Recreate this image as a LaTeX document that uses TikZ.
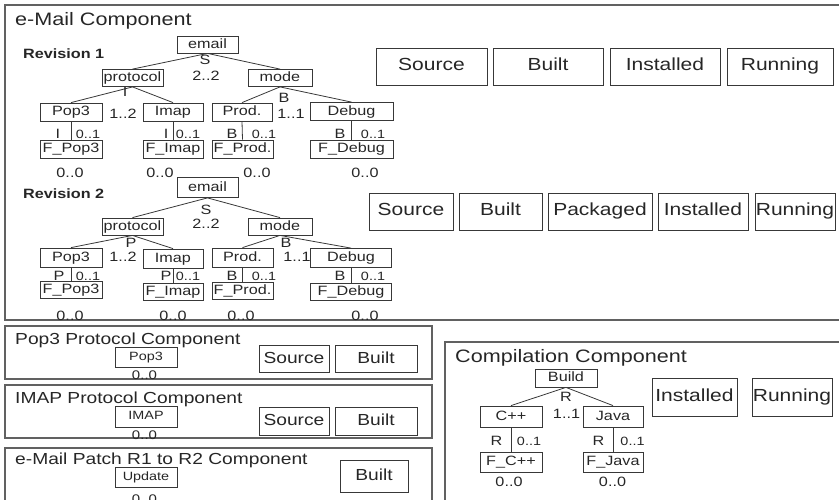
\documentclass[tikz,border=0pt]{standalone}
\usepackage{fontspec}
\setmainfont{Liberation Sans}[FakeStretch=1.2]
\newcommand{\fsz}[1]{\fontsize{#1pt}{#1pt}\selectfont}

\begin{document}
\begin{tikzpicture}[x=1pt,y=-1pt,
  frame/.style={draw=black!62, line width=1.1pt},
  ttl/.style={anchor=base west, inner sep=0pt, font=\fsz{16}, text=black!85},
  rev/.style={anchor=base west, inner sep=0pt, font=\fsz{13.5}\bfseries, text=black!85},
  fbox/.style={draw=black!78, line width=0.8pt, inner sep=0pt, font=\fsz{13.5},
    text=black!85, minimum height=17pt, text height=9.8pt, text depth=2.8pt},
  sbox/.style={fbox, font=\fsz{12}, text height=8.7pt, text depth=2.5pt},
  state/.style={draw=black!78, line width=0.9pt, inner sep=0pt, font=\fsz{17.5},
    text=black!85, minimum height=37pt, text height=12.5pt, text depth=3.6pt},
  lbl/.style={inner sep=0pt, font=\fsz{13.5}, text=black!85},
  card/.style={inner sep=0pt, font=\fsz{12}, text=black!85},
  edge/.style={draw=black!78, line width=0.8pt}]

\useasboundingbox (0,0) rectangle (839,499);
\clip (0,0) rectangle (839,499);

% ---------- frames ----------
\draw[frame] (5,5) rectangle (850,320);
\draw[frame] (5,326) rectangle (432,379);
\draw[frame] (5,385) rectangle (432,438);
\draw[frame] (5,448) rectangle (432,515);
\draw[frame] (445,342) rectangle (850,515);

\node[ttl, font=\fsz{18}] (tmail) at (15,25) {e-Mail Component};
\node[ttl] (tpop) at (15,344.5) {Pop3 Protocol Component};
\node[ttl] (timap) at (15,403) {IMAP Protocol Component};
\node[ttl] (tpatch) at (15,464) {e-Mail Patch R1 to R2 Component};
\node[ttl, font=\fsz{18}] (tcomp) at (455,362) {Compilation Component};

% ---------- Revision 1 ----------
\node[rev] (rev1) at (23,58) {Revision 1};
\node[fbox, minimum width=61pt] (e1email) at (207.5,44.5) {email};
\node[fbox, minimum width=61pt] (e1prot) at (132.5,78) {protocol};
\node[fbox, minimum width=64pt] (e1mode) at (280,78) {mode};
\node[fbox, minimum width=62pt, minimum height=18pt] (e1pop) at (71,112) {Pop3};
\node[fbox, minimum width=60pt, minimum height=18pt] (e1imap) at (173,112) {Imap};
\node[fbox, minimum width=60pt, minimum height=18pt] (e1prod) at (242,112) {Prod.};
\node[fbox, minimum width=83pt, minimum height=18pt] (e1debug) at (351.5,111.5) {Debug};
\node[fbox, minimum width=62pt, minimum height=18pt] (e1fpop) at (71,149) {F\_Pop3};
\node[fbox, minimum width=60pt, minimum height=18pt] (e1fimap) at (173,149) {F\_Imap};
\node[fbox, minimum width=61pt, minimum height=18pt] (e1fprod) at (242.5,149) {F\_Prod.};
\node[fbox, minimum width=83pt, minimum height=18pt] (e1fdebug) at (351.5,149) {F\_Debug};

\draw[edge] (e1email.south) -- (e1prot.north);
\draw[edge] (e1email.south) -- (e1mode.north);
\draw[edge] (e1prot.south) -- (e1pop.north);
\draw[edge] (e1prot.south) -- (e1imap.north);
\draw[edge] (e1mode.south) -- (e1prod.north);
\draw[edge] (e1mode.south) -- (e1debug.north);
\draw[edge] (e1pop.south) -- (e1fpop.north);
\draw[edge] (e1imap.south) -- (e1fimap.north);
\draw[edge] (e1prod.south) -- (e1fprod.north);
\draw[edge] (e1debug.south) -- (e1fdebug.north);

\node[lbl] (e1s) at (205,60) {S};
\node[lbl] (e1sc) at (206,76) {2..2};
\node[lbl] (e1i) at (125,92) {I};
\node[lbl] (e1ic) at (123,114) {1..2};
\node[lbl] (e1b) at (284,98) {B};
\node[lbl] (e1bc) at (291,114) {1..1};
\node[lbl] (e1pi) at (58,134) {I};
\node[card] (e1pc) at (88,134) {0..1};
\node[lbl] (e1mi) at (166,134) {I};
\node[card] (e1mc) at (188,134) {0..1};
\node[lbl] (e1rb) at (232,134) {B};
\node[card] (e1rc) at (264,134) {0..1};
\node[lbl] (e1db) at (340,134) {B};
\node[card] (e1dc) at (373,134) {0..1};
\node[lbl] (e1z1) at (70,172.5) {0..0};
\node[lbl] (e1z2) at (160,172.5) {0..0};
\node[lbl] (e1z3) at (257,172.5) {0..0};
\node[lbl] (e1z4) at (365,172.5) {0..0};

\node[state, minimum width=111pt] (r1src) at (431.5,66.5) {Source};
\node[state, minimum width=110pt] (r1blt) at (548,66.5) {Built};
\node[state, minimum width=110pt] (r1ins) at (665,66.5) {Installed};
\node[state, minimum width=106pt] (r1run) at (780,66.5) {Running};

% ---------- Revision 2 ----------
\node[rev] (rev2) at (23,198) {Revision 2};
\node[fbox, minimum width=61pt, minimum height=20pt] (e2email) at (207.5,187.5) {email};
\node[fbox, minimum width=61pt] (e2prot) at (132.5,226.5) {protocol};
\node[fbox, minimum width=64pt] (e2mode) at (280,226.5) {mode};
\node[fbox, minimum width=62pt, minimum height=19pt] (e2pop) at (71,257.5) {Pop3};
\node[fbox, minimum width=60pt, minimum height=19pt] (e2imap) at (173,258.5) {Imap};
\node[fbox, minimum width=61pt, minimum height=19pt] (e2prod) at (242.5,257.5) {Prod.};
\node[fbox, minimum width=81pt, minimum height=19pt] (e2debug) at (351,258) {Debug};
\node[fbox, minimum width=62pt] (e2fpop) at (71,290) {F\_Pop3};
\node[fbox, minimum width=60pt] (e2fimap) at (173,291.5) {F\_Imap};
\node[fbox, minimum width=61pt] (e2fprod) at (242.5,290.5) {F\_Prod.};
\node[fbox, minimum width=81pt] (e2fdebug) at (351,291.5) {F\_Debug};

\draw[edge] (e2email.south) -- (e2prot.north);
\draw[edge] (e2email.south) -- (e2mode.north);
\draw[edge] (e2prot.south) -- (e2pop.north);
\draw[edge] (e2prot.south) -- (e2imap.north);
\draw[edge] (e2mode.south) -- (e2prod.north);
\draw[edge] (e2mode.south) -- (e2debug.north);
\draw[edge] (e2pop.south) -- (e2fpop.north);
\draw[edge] (e2imap.south) -- (e2fimap.north);
\draw[edge] (e2prod.south) -- (e2fprod.north);
\draw[edge] (e2debug.south) -- (e2fdebug.north);

\node[lbl] (e2s) at (206,210) {S};
\node[lbl] (e2sc) at (206,224) {2..2};
\node[lbl] (e2p) at (131,243) {P};
\node[lbl] (e2pc) at (123,257) {1..2};
\node[lbl] (e2b) at (286,243) {B};
\node[lbl] (e2bc) at (297,257) {1..1};
\node[lbl] (e2pp) at (59,276) {P};
\node[card] (e2ppc) at (88,276) {0..1};
\node[lbl] (e2mp) at (166,276) {P};
\node[card] (e2mpc) at (188,276) {0..1};
\node[lbl] (e2rb) at (232,276) {B};
\node[card] (e2rbc) at (264,276) {0..1};
\node[lbl] (e2db) at (340,276) {B};
\node[card] (e2dbc) at (373,276) {0..1};
\node[lbl] (e2z1) at (70,316) {0..0};
\node[lbl] (e2z2) at (173,316) {0..0};
\node[lbl] (e2z3) at (241,316) {0..0};
\node[lbl] (e2z4) at (365,316) {0..0};

\node[state, minimum width=84pt] (r2src) at (411,211.5) {Source};
\node[state, minimum width=83pt] (r2blt) at (500.5,211.5) {Built};
\node[state, minimum width=104pt] (r2pkg) at (600,211.5) {Packaged};
\node[state, minimum width=90pt] (r2ins) at (703,211.5) {Installed};
\node[state, minimum width=80pt] (r2run) at (795,211.5) {Running};

% ---------- Pop3 / IMAP / patch components ----------
\node[sbox, minimum width=62pt, minimum height=20pt] (pbox) at (146,357) {Pop3};
\node[card, font=\fsz{12.5}] (pz) at (144.5,375.5) {0..0};
\node[state, font=\fsz{16}, minimum width=70pt, minimum height=27pt] (psrc) at (294,359) {Source};
\node[state, font=\fsz{16}, minimum width=82pt, minimum height=27pt] (pblt) at (376,359) {Built};

\node[sbox, minimum width=62pt, minimum height=21pt] (ibox) at (146,416.5) {IMAP};
\node[card, font=\fsz{12.5}] (iz) at (144.5,435) {0..0};
\node[state, font=\fsz{16}, minimum width=70pt, minimum height=28pt] (isrc) at (294,421) {Source};
\node[state, font=\fsz{16}, minimum width=82pt, minimum height=28pt] (iblt) at (376,421) {Built};

\node[sbox, minimum width=62pt, minimum height=20pt] (ubox) at (146,477) {Update};
\node[card, font=\fsz{12.5}] (uz) at (144.5,499.5) {0..0};
\node[state, font=\fsz{16}, minimum width=68pt, minimum height=32pt] (ublt) at (374,476) {Built};

% ---------- Compilation component ----------
\node[fbox, minimum width=62pt, minimum height=18pt] (build) at (566,378) {Build};
\node[fbox, minimum width=62pt, minimum height=21pt] (cpp) at (511,416.5) {C++};
\node[fbox, minimum width=60pt, minimum height=21pt] (java) at (613,416.5) {Java};
\node[fbox, minimum width=62pt, minimum height=20pt] (fcpp) at (511,462) {F\_C++};
\node[fbox, minimum width=60pt, minimum height=20pt] (fjava) at (613,462) {F\_Java};

\draw[edge] (build.south) -- (cpp.north);
\draw[edge] (build.south) -- (java.north);
\draw[edge] (cpp.south) -- (fcpp.north);
\draw[edge] (java.south) -- (fjava.north);

\node[lbl] (cr) at (566,397) {R};
\node[lbl] (crc) at (566.5,414) {1..1};
\node[lbl] (ccr) at (496.5,441) {R};
\node[card] (ccrc) at (529,441) {0..1};
\node[lbl] (cjr) at (598.5,441) {R};
\node[card] (cjrc) at (632.5,441) {0..1};
\node[lbl] (cz1) at (509,482) {0..0};
\node[lbl] (cz2) at (612.5,482) {0..0};

\node[state, minimum width=85pt, minimum height=38pt] (cins) at (694.5,397) {Installed};
\node[state, minimum width=80pt, minimum height=38pt] (crun) at (792,397) {Running};

\end{tikzpicture}
\end{document}
